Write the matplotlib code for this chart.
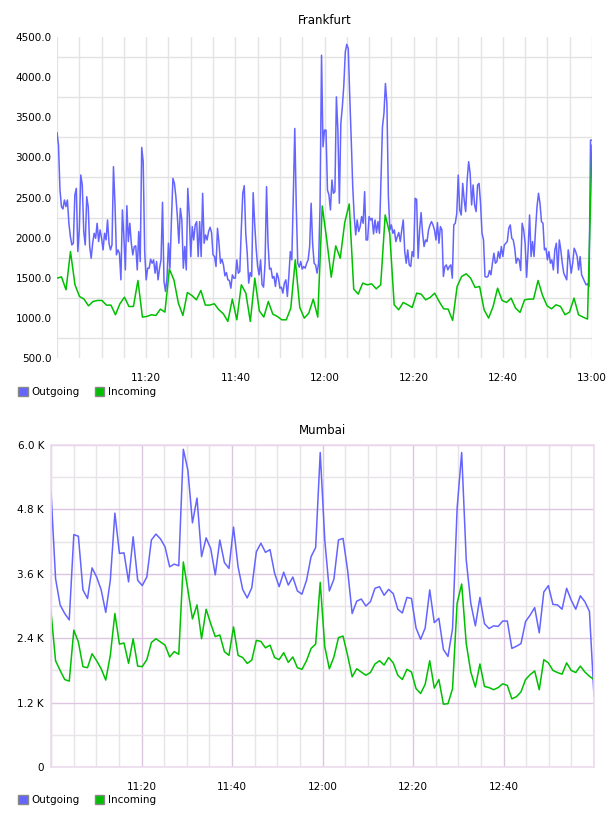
import matplotlib
matplotlib.use("Agg")
import matplotlib.pyplot as plt
from matplotlib.patches import Patch
from matplotlib.ticker import MultipleLocator, FixedLocator, FuncFormatter
import numpy as np

# Frankfurt: outgoing sampled every 20 s, incoming every minute (11:00 - 13:00)
fra_out = [
    3307, 3153, 2593, 2386, 2357, 2469, 2386, 2469, 2179, 2013,
    1909, 1930, 2531, 2614, 1826, 2096, 2780, 2656, 2075, 1909,
    2510, 2386, 1889, 1743, 1930, 2054, 1992, 2179, 1951, 2096,
    1992, 1847, 2054, 1971, 2220, 1930, 1847, 1909, 2884, 2428,
    1785, 1847, 1806, 1474, 2345, 2013, 1598, 2398, 1951, 2179,
    1930, 1785, 1889, 1897, 1598, 2075, 1702, 3124, 2946, 1826,
    1474, 1619, 1619, 1731, 1681, 1723, 1557, 1702, 1474, 1619,
    1723, 2440, 1453, 1329, 1495, 1930, 1619, 2220, 2738, 2676,
    2510, 2262, 1930, 2365, 2220, 1619, 1889, 1598, 2614, 2282,
    1764, 2137, 1971, 2158, 2200, 1764, 2200, 1764, 2552, 1930,
    2034, 1971, 2075, 2129, 2063, 1785, 1764, 1640, 2117, 1930,
    1681, 1731, 1660, 1524, 1565, 1474, 1466, 1370, 1536, 1495,
    1495, 1723, 1557, 1578, 2096, 2552, 2647, 2054, 1806, 1433,
    1565, 1516, 2560, 2179, 1868, 1640, 1536, 1723, 1412, 1383,
    1681, 2635, 1930, 1607, 1619, 1495, 1516, 1391, 1557, 1495,
    1370, 1383, 1308, 1433, 1474, 1267, 1516, 1826, 1723, 2510,
    3360, 2386, 1681, 1632, 1702, 1607, 1640, 1619, 1681, 1723,
    1889, 2428, 1930, 1681, 1660, 1557, 1681, 2386, 4273, 3132,
    3340, 3340, 2593, 2531, 2345, 2718, 2552, 2573, 3754, 3340,
    2428, 3423, 3630, 3899, 4314, 4409, 4355, 3754, 3215, 2635,
    2262, 2034, 2220, 2075, 2137, 2262, 2179, 2573, 1971, 1971,
    2262, 2220, 2241, 2046, 2220, 2063, 2200, 2054, 2718, 3381,
    3547, 3920, 3671, 2510, 2096, 2158, 2054, 2096, 1951, 2013,
    2063, 1951, 2096, 2220, 1826, 1681, 1847, 1660, 1640, 1826,
    1764, 2490, 2477, 1743, 2096, 2312, 2054, 1889, 1971, 1951,
    2096, 2158, 2200, 2158, 2096, 1971, 2187, 1930, 2137, 2096,
    1516, 1640, 1660, 1598, 1640, 1660, 1495, 2158, 2179, 2303,
    2780, 2345, 2282, 2676, 2469, 2324, 2718, 2946, 2801, 2407,
    2656, 2407, 2324, 2656, 2676, 2428, 2054, 1971, 1516, 1507,
    1516, 1590, 1536, 1681, 1806, 1681, 1702, 1826, 1743, 1889,
    1764, 1909, 1930, 1951, 2117, 2158, 1992, 1971, 1868, 1681,
    1743, 1723, 1590, 2179, 2096, 1930, 1507, 1847, 2282, 1764,
    1951, 1764, 2096, 2386, 2552, 2428, 2200, 2179, 1847, 1868,
    1723, 1826, 1681, 1723, 1598, 1847, 1930, 1557, 1971, 1847,
    1681, 1557, 1516, 1474, 1847, 1723, 1557, 1681, 1868, 1826,
    1764, 1598, 1764, 1536, 1495, 1453, 1412, 1424, 1391, 3215,
    3215,
]
fra_in = [
    1495, 1511, 1350, 1826, 1412, 1267, 1234, 1150, 1204, 1217,
    1217, 1159, 1159, 1039, 1176, 1258, 1142, 1142, 1466, 1010,
    1018, 1039, 1030, 1109, 1072, 1607, 1474, 1184, 1030, 1316,
    1279, 1225, 1341, 1159, 1159, 1176, 1101, 1051, 956, 1234,
    976, 1412, 1308, 956, 1495, 1088, 1010, 1204, 1047, 1018,
    976, 976, 1122, 1723, 1130, 997, 1059, 1234, 1010, 2394,
    1972, 1507, 1897, 1743, 2187, 2419, 1358, 1296, 1433, 1412,
    1424, 1362, 1412, 2282, 2054, 1163, 1101, 1192, 1163, 1130,
    1308, 1296, 1225, 1254, 1308, 1204, 1113, 1109, 968, 1391,
    1516, 1549, 1495, 1379, 1391, 1101, 997, 1142, 1370, 1217,
    1192, 1246, 1122, 1068, 1225, 1234, 1234, 1466, 1279, 1151,
    1113, 1163, 1142, 1039, 1072, 1246, 1039, 1010, 985, 3153,
]

# Mumbai: both series sampled every minute, values in K
mum_out = [
    5.13, 3.51, 3.02, 2.86, 2.74, 4.33, 4.30, 3.30, 3.14, 3.71,
    3.54, 3.30, 2.88, 3.48, 4.73, 3.98, 3.99, 3.45, 4.29, 3.48,
    3.38, 3.54, 4.23, 4.34, 4.25, 4.10, 3.73, 3.78, 3.75, 5.92,
    5.53, 4.55, 5.01, 3.92, 4.27, 4.07, 3.58, 4.23, 3.81, 3.70,
    4.47, 3.73, 3.31, 3.15, 3.34, 4.01, 4.17, 4.00, 4.05, 3.61,
    3.36, 3.63, 3.39, 3.54, 3.28, 3.22, 3.48, 3.92, 4.09, 5.86,
    4.23, 3.28, 3.50, 4.23, 4.26, 3.67, 2.86, 3.09, 3.13, 3.00,
    3.08, 3.33, 3.36, 3.20, 3.31, 3.23, 2.94, 2.87, 3.16, 3.14,
    2.59, 2.38, 2.59, 3.30, 2.69, 2.77, 2.19, 2.06, 2.58, 4.82,
    5.86, 3.86, 3.05, 2.63, 3.16, 2.67, 2.58, 2.63, 2.62, 2.72,
    2.72, 2.21, 2.25, 2.30, 2.71, 2.83, 2.97, 2.50, 3.26, 3.38,
    3.03, 3.02, 2.94, 3.33, 3.11, 2.94, 3.19, 3.08, 2.90, 1.32,
]
mum_in = [
    2.89, 1.98, 1.80, 1.63, 1.60, 2.55, 2.33, 1.87, 1.85, 2.11,
    1.98, 1.83, 1.62, 2.08, 2.86, 2.29, 2.31, 1.93, 2.39, 1.88,
    1.87, 2.00, 2.32, 2.39, 2.33, 2.27, 2.05, 2.15, 2.10, 3.82,
    3.30, 2.76, 3.02, 2.39, 2.94, 2.67, 2.43, 2.46, 2.15, 2.08,
    2.61, 2.08, 2.04, 1.93, 1.99, 2.36, 2.34, 2.22, 2.27, 2.04,
    2.00, 2.13, 1.95, 2.05, 1.85, 1.82, 1.98, 2.21, 2.29, 3.44,
    2.24, 1.83, 2.05, 2.41, 2.44, 2.08, 1.68, 1.83, 1.77, 1.71,
    1.76, 1.92, 1.98, 1.90, 2.04, 1.94, 1.71, 1.63, 1.82, 1.77,
    1.46, 1.37, 1.54, 1.98, 1.47, 1.63, 1.17, 1.18, 1.46, 3.05,
    3.41, 2.30, 1.77, 1.49, 1.92, 1.50, 1.48, 1.44, 1.48, 1.55,
    1.52, 1.27, 1.31, 1.40, 1.63, 1.72, 1.79, 1.44, 2.00, 1.94,
    1.80, 1.76, 1.73, 1.94, 1.80, 1.76, 1.88, 1.77, 1.69, 1.63,
]

BLUE = "#6464ff"
GREEN = "#00c000"
FS = 7.5

plt.rcParams["font.family"] = ["DejaVu Sans"]


def minutes(series):
    # time axis in minutes after 11:00, samples spread over the two hours
    return np.linspace(0, 120, len(series))


def hhmm(m, pos):
    m = int(round(m))
    return f"{11 + m // 60}:{m % 60:02d}"


def legend(fig, y):
    handles = [Patch(facecolor=BLUE, edgecolor="#888888", label="Outgoing"),
               Patch(facecolor=GREEN, edgecolor="#888888", label="Incoming")]
    fig.legend(handles=handles, loc="center left", bbox_to_anchor=(14 / 608, 1 - y / 816),
               ncol=2, frameon=False, fontsize=FS, handlelength=0.9, handleheight=0.9,
               handletextpad=0.4, columnspacing=1.4, borderaxespad=0)


fig = plt.figure(figsize=(6.08, 8.16), dpi=100)

# ---- Frankfurt
ax1 = fig.add_axes([57 / 608, 1 - 358 / 816, 535 / 608, 321 / 816])
ax1.plot(minutes(fra_out), fra_out, color=BLUE, lw=1.1)
ax1.plot(minutes(fra_in), fra_in, color=GREEN, lw=1.1)
ax1.set_xlim(0, 120)
ax1.set_ylim(500, 4500)
ax1.yaxis.set_major_locator(MultipleLocator(500))
# gridlines sit half way between the labelled values
ax1.yaxis.set_minor_locator(FixedLocator(np.arange(750, 4500, 500)))
ax1.yaxis.set_major_formatter(FuncFormatter(lambda v, p: f"{v:.1f}"))
ax1.xaxis.set_major_locator(MultipleLocator(20))
ax1.xaxis.set_minor_locator(MultipleLocator(5))
ax1.xaxis.set_major_formatter(FuncFormatter(lambda m, p: hhmm(m, p) if m > 0 else ""))
ax1.grid(which="minor", axis="y", color="#e2e2e2", lw=1)
ax1.grid(which="both", axis="x", color="#e4e4e4", lw=1)
ax1.set_axisbelow(True)
for s in ax1.spines.values():
    s.set_visible(False)
ax1.tick_params(which="both", length=0, labelsize=FS)
ax1.tick_params(axis="x", pad=11)
ax1.tick_params(axis="y", pad=4)
ax1.set_title("Frankfurt", fontsize=8.5, pad=9)
legend(fig, 392)

# ---- Mumbai
ax2 = fig.add_axes([51 / 608, 1 - 767 / 816, 543 / 608, 322 / 816])
ax2.plot(minutes(mum_out), [v * 1000 for v in mum_out], color=BLUE, lw=1.1)
ax2.plot(minutes(mum_in), [v * 1000 for v in mum_in], color=GREEN, lw=1.1)
ax2.set_xlim(0, 120)
ax2.set_ylim(0, 6000)
ax2.yaxis.set_major_locator(MultipleLocator(1200))
ax2.yaxis.set_minor_locator(MultipleLocator(600))
ax2.yaxis.set_major_formatter(FuncFormatter(lambda v, p: "0" if v == 0 else f"{v / 1000:.1f} K"))
ax2.xaxis.set_major_locator(MultipleLocator(20))
ax2.xaxis.set_minor_locator(MultipleLocator(5))
ax2.xaxis.set_major_formatter(FuncFormatter(lambda m, p: hhmm(m, p) if 0 < m < 120 else ""))
ax2.grid(which="major", color="#dcc6e0", lw=1)
ax2.grid(which="minor", color="#e8e4ea", lw=1)
ax2.set_axisbelow(True)
for s in ax2.spines.values():
    s.set_color("#ecdcee")
    s.set_linewidth(1.2)
ax2.tick_params(which="both", length=0, labelsize=FS)
ax2.tick_params(axis="x", pad=11)
ax2.tick_params(axis="y", pad=5)
ax2.set_title("Mumbai", fontsize=8.5, pad=8)
legend(fig, 800)

fig.savefig("out.png", dpi=100)
